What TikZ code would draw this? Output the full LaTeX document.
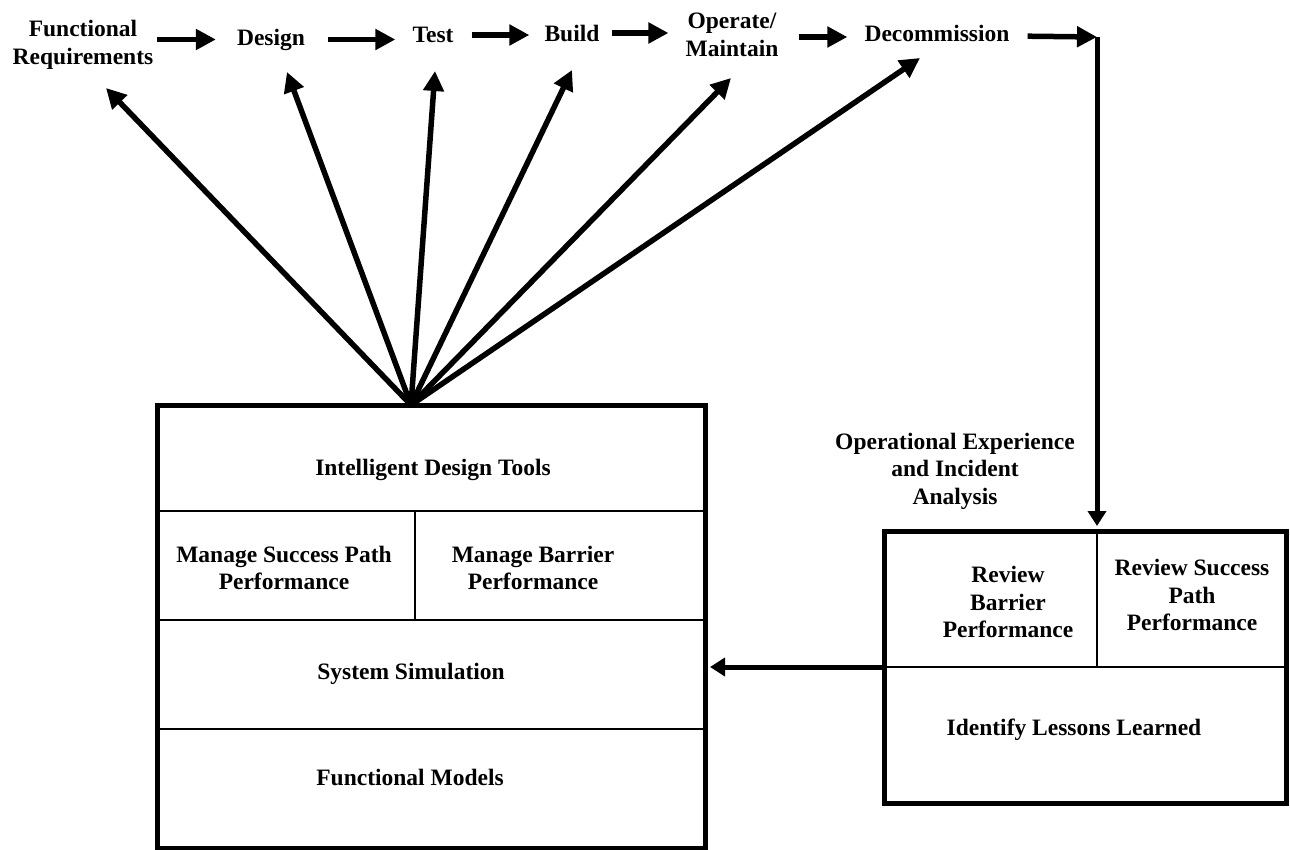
\documentclass[tikz,border=0pt]{standalone}
\usepackage{fontspec}
\setmainfont{Liberation Serif}
\usetikzlibrary{arrows.meta}

\begin{document}
\begin{tikzpicture}[x=1pt,y=-1pt,
  lbl/.style={font=\fontsize{23.5}{27.5}\selectfont\bfseries, align=center, inner sep=0pt},
  frame/.style={draw, line width=5pt, inner sep=0pt},
  divider/.style={line width=2pt},
  flow/.style={line width=5.5pt, -{Triangle[length=20pt,width=20pt]}},
  feed/.style={line width=5pt, -{Triangle[length=15pt,width=18pt]}}
]
\useasboundingbox (0,0) rectangle (1290,850);

% lifecycle stages along the top
\node[lbl] (fr)  at (83,45)    {Functional\\Requirements};
\node[lbl] (des) at (271,39.5) {Design};
\node[lbl] (tst) at (433,35)   {Test};
\node[lbl] (bld) at (572,33)   {Build};
\node[lbl] (op)  at (732,35)   {Operate/\\Maintain};
\node[lbl] (dec) at (937,33)   {Decommission};
\coordinate (turn) at (1097,37);

\draw[flow, shorten <=4pt, shorten >=21pt] (fr.east |- des.west) -- (des.west);
\draw[flow, shorten <=23pt, shorten >=17pt] (des.east) -- (des.east -| tst.west);
\draw[flow, shorten <=18pt, shorten >=15pt] (tst.east) -- (tst.east -| bld.west);
\draw[flow, shorten <=12pt, shorten >=17pt] (bld.east) -- (bld.east -| op.west);
\draw[flow, shorten <=20pt, shorten >=17pt] ([yshift=-2pt]op.east) -- ([yshift=-2pt]op.east -| dec.west);
\draw[flow, shorten <=18pt] ([yshift=-3pt]dec.east) -- (turn);

% design-side box
\node[frame, minimum width=548pt, minimum height=443pt] (tools) at (431,626.5) {};
\draw[divider] (tools.west |- 0,511) -- (tools.east |- 0,511);
\draw[divider] (tools.west |- 0,620) -- (tools.east |- 0,620);
\draw[divider] (tools.west |- 0,729) -- (tools.east |- 0,729);
\draw[divider] (415,511) -- (415,620);

\node[lbl] (idt) at (433,470) {Intelligent Design Tools};
\node[lbl] (msp) at (284,568) {Manage Success Path\\Performance};
\node[lbl] (mbp) at (533,568) {Manage Barrier\\Performance};
\node[lbl] (sim) at (411,674) {System Simulation};
\node[lbl] (fm)  at (410,777) {Functional Models};

% fan of arrows from the tools box to every stage
\coordinate (apex) at (411,405);
\coordinate (tFR)  at (106,88);
\coordinate (tDes) at (287,72);
\coordinate (tTst) at (435,71);
\coordinate (tBld) at (572,70);
\coordinate (tOp)  at (731,78);
\coordinate (tDec) at (920,58);
\foreach \t in {tFR,tDes,tTst,tBld,tOp,tDec}
  \draw[flow] (apex) -- (\t);

% operational feedback box
\node[frame, minimum width=402pt, minimum height=272pt] (review) at (1085,667) {};
\draw[divider] (review.west) -- (review.east);
\draw[divider] (1097,531) -- (1097,667);

\node[lbl] (oe)  at (955,471)  {Operational Experience\\and Incident\\Analysis};
\node[lbl] (rbp) at (1008,602) {Review\\Barrier\\Performance};
\node[lbl] (rsp) at (1192,595) {Review Success\\Path\\Performance};
\node[lbl] (ill) at (1074,730) {Identify Lessons Learned};

\draw[feed, shorten >=2.5pt] (turn) -- (turn |- review.north);
\draw[feed, shorten >=2.5pt] (review.west) -- (tools.east |- review.west);
\end{tikzpicture}
\end{document}
